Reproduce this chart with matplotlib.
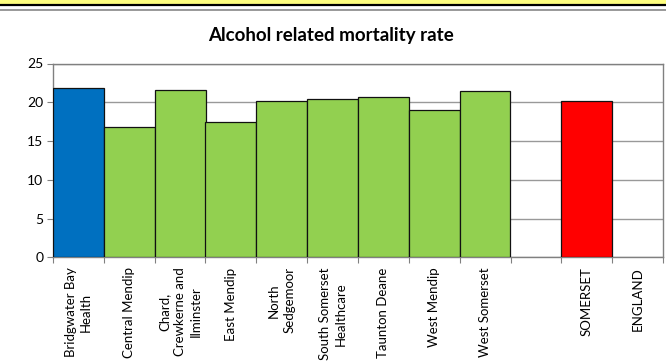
import numpy as np
import matplotlib
matplotlib.use("Agg")
import matplotlib.pyplot as plt
from matplotlib.lines import Line2D
from matplotlib.patches import Rectangle

plt.rcParams['font.family'] = ['Lato', 'DejaVu Sans']

labels = ["Bridgwater Bay\nHealth", "Central Mendip", "Chard,\nCrewkerne and\nIlminster",
          "East Mendip", "North\nSedgemoor", "South Somerset\nHealthcare", "Taunton Deane",
          "West Mendip", "West Somerset", "", "SOMERSET", "ENGLAND"]
values = [21.8, 16.8, 21.6, 17.4, 20.2, 20.4, 20.7, 19.0, 21.4, np.nan, 20.2, np.nan]
colors = ["#0070C0"] + ["#92D050"] * 8 + ["white", "#FF0000", "white"]

fig = plt.figure(figsize=(6.66, 3.61), dpi=100)

# banner lines at the top
fig.patches.append(Rectangle((0, 1 - 3.5 / 361), 1, 3.5 / 361, transform=fig.transFigure,
                             color="#FFFF80", zorder=0))
fig.lines.append(Line2D([0, 1], [1 - 4.5 / 361] * 2, transform=fig.transFigure,
                        color="black", lw=1.6))
fig.lines.append(Line2D([0, 1], [1 - 9.5 / 361] * 2, transform=fig.transFigure,
                        color="#888888", lw=1.2))

ax = fig.add_axes([53 / 666, 1 - 257.3 / 361, 610 / 666, 193.8 / 361])
x = np.arange(len(labels))
ax.bar(x, values, width=1.0, color=colors, edgecolor="#111111", linewidth=0.9, zorder=3)

ax.set_xlim(-0.5, len(labels) - 0.5)
ax.set_ylim(0, 25)
ax.set_yticks(range(0, 26, 5))
ax.yaxis.grid(True, color="#999999", linewidth=1.0, zorder=0)
for s in ax.spines.values():
    s.set_color("#808080")
    s.set_linewidth(1.0)

ax.set_xticks(np.arange(-0.5, len(labels), 1.0))
ax.set_xticklabels([])
ax.tick_params(axis="x", length=4, color="#808080")
ax.tick_params(axis="y", length=4, color="#808080", labelsize=10, pad=3)

for i, lab in enumerate(labels):
    ax.text(i, -1.3, lab, rotation=90, ha="center", va="top", multialignment="center",
            fontsize=9.5, linespacing=1.35, transform=ax.transData, clip_on=False)

fig.text(331 / 666, 1 - 36 / 361, "Alcohol related mortality rate", ha="center",
         va="center", fontsize=13.5, fontweight="bold")

fig.savefig("out.png", dpi=100)
